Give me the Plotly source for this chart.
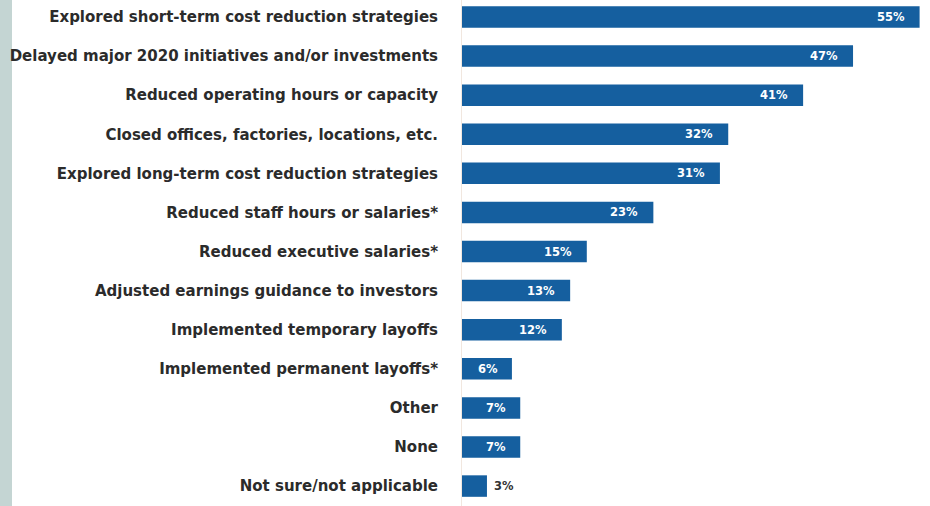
import plotly.graph_objects as go

categories = [
    "Explored short-term cost reduction strategies",
    "Delayed major 2020 initiatives and/or investments",
    "Reduced operating hours or capacity",
    "Closed offices, factories, locations, etc.",
    "Explored long-term cost reduction strategies",
    "Reduced staff hours or salaries*",
    "Reduced executive salaries*",
    "Adjusted earnings guidance to investors",
    "Implemented temporary layoffs",
    "Implemented permanent layoffs*",
    "Other",
    "None",
    "Not sure/not applicable",
]
values = [55, 47, 41, 32, 31, 23, 15, 13, 12, 6, 7, 7, 3]
labels = [f"{v}%" for v in values]

BAR = "#155f9f"
W, H = 930, 506
ML, MR = 462, 5
PX_PER_UNIT = 8.32
plot_w = W - ML - MR
FONT = "DejaVu Sans"

fig = go.Figure()
fig.add_trace(go.Bar(
    y=categories, x=values, orientation="h",
    marker=dict(color=BAR, line=dict(width=0)),
    hoverinfo="skip",
))

for c, v, t in zip(categories, values, labels):
    if v >= 5:
        fig.add_annotation(x=v, y=c, text=f"<b>{t}</b>", showarrow=False,
                           xanchor="center", xshift=-29 if v > 8 else -24,
                           font=dict(family=FONT, size=11.5, color="white"))
    else:
        fig.add_annotation(x=v, y=c, text=f"<b>{t}</b>", showarrow=False,
                           xanchor="left", xshift=5,
                           font=dict(family=FONT, size=11.5, color="#333333"))

# left border strip
fig.add_shape(type="rect", xref="paper", yref="paper",
              x0=-ML / plot_w, x1=-(ML - 12) / plot_w, y0=0, y1=1,
              fillcolor="#c4d5d3", line=dict(width=0), layer="below")

fig.update_layout(
    width=W, height=H,
    margin=dict(l=ML, r=MR, t=0, b=0),
    paper_bgcolor="white", plot_bgcolor="white",
    showlegend=False,
    bargap=0.45,
    xaxis=dict(range=[0, plot_w / PX_PER_UNIT], visible=False, fixedrange=True),
    yaxis=dict(
        range=[12.51, -0.435], showgrid=False, zeroline=False,
        showline=True, linecolor="#f1e7df", linewidth=1,
        ticks="", ticklabelstandoff=20,
        tickfont=dict(family=FONT, size=15, color="#2b2b2b", weight="bold"),
        automargin=False,
    ),
)

fig.write_html("out.html")
